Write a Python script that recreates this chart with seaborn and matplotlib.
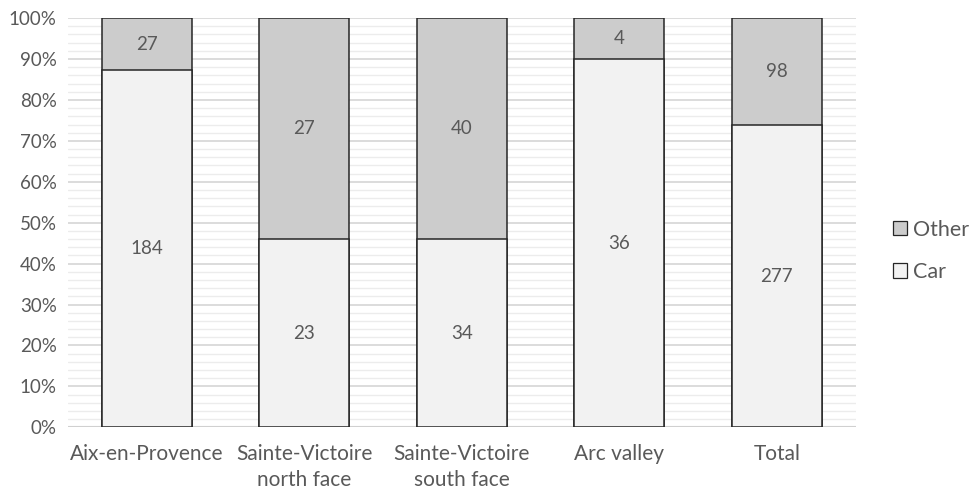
"""Share of car vs other transport modes per area, as 100% stacked bars."""

import matplotlib
matplotlib.use("Agg")
import matplotlib.pyplot as plt
import numpy as np
import pandas as pd
import seaborn as sns
from matplotlib.patches import Patch
from matplotlib.ticker import MultipleLocator, PercentFormatter

areas = [
    "Aix-en-Provence",
    "Sainte-Victoire\nnorth face",
    "Sainte-Victoire\nsouth face",
    "Arc valley",
    "Total",
]
car_counts = [184, 23, 34, 36, 277]
other_counts = [27, 27, 40, 4, 98]

TEXT = "#595959"
CAR_COLOR = "#f2f2f2"
OTHER_COLOR = "#cccccc"
EDGE = "#262626"


def build_frame() -> pd.DataFrame:
    car = np.array(car_counts, dtype=float)
    other = np.array(other_counts, dtype=float)
    total = car + other
    return pd.DataFrame({
        "area": areas,
        "car": car,
        "other": other,
        "car_pct": car / total * 100,
        "top_pct": np.full(len(areas), 100.0),
    })


def main() -> None:
    sns.set_theme(style="white")
    plt.rcParams["font.family"] = ["Lato", "DejaVu Sans"]

    df = build_frame()
    fig, ax = plt.subplots(figsize=(9.69, 4.90), dpi=100)
    fig.subplots_adjust(left=0.070, right=0.883, top=0.963, bottom=0.128)

    width = 0.57
    sns.barplot(data=df, x="area", y="top_pct", color=OTHER_COLOR, width=width,
                edgecolor=EDGE, linewidth=1.1, saturation=1, ax=ax, zorder=3)
    sns.barplot(data=df, x="area", y="car_pct", color=CAR_COLOR, width=width,
                edgecolor=EDGE, linewidth=1.1, saturation=1, ax=ax, zorder=3)

    # labels: counts centred in each segment
    for i, row in df.iterrows():
        ax.text(i, row["car_pct"] / 2, f"{int(row['car'])}", ha="center", va="center",
                fontsize=13.5, color=TEXT, zorder=4)
        ax.text(i, (row["car_pct"] + 100) / 2, f"{int(row['other'])}", ha="center",
                va="center", fontsize=13.5, color=TEXT, zorder=4)

    ax.set_ylim(0, 100)
    ax.set_xlim(-0.5, len(areas) - 0.5)
    ax.yaxis.set_major_locator(MultipleLocator(10))
    ax.yaxis.set_minor_locator(MultipleLocator(2))
    ax.yaxis.set_major_formatter(PercentFormatter(decimals=0))
    ax.grid(axis="y", which="major", color="#d9d9d9", linewidth=1.3, zorder=0)
    ax.grid(axis="y", which="minor", color="#ececec", linewidth=1.0, zorder=0)
    ax.set_axisbelow(True)
    for side in ["top", "right", "left", "bottom"]:
        ax.spines[side].set_visible(False)
    ax.axhline(0, color="#d0d0d0", linewidth=1.5, zorder=1)

    ax.set_xlabel("")
    ax.set_ylabel("")
    ax.tick_params(axis="both", which="both", length=0, colors=TEXT)
    ax.tick_params(axis="y", labelsize=13.5, pad=8)
    ax.tick_params(axis="x", labelsize=15, pad=12)
    for lbl in ax.get_xticklabels():
        lbl.set_linespacing(1.35)

    handles = [
        Patch(facecolor=OTHER_COLOR, edgecolor=EDGE, linewidth=0.9, label="Other"),
        Patch(facecolor=CAR_COLOR, edgecolor=EDGE, linewidth=0.9, label="Car"),
    ]
    leg = fig.legend(handles=handles, loc="center left", bbox_to_anchor=(0.922, 0.488),
                     frameon=False, fontsize=15.5, handlelength=0.65, handleheight=0.65,
                     handletextpad=0.25, labelspacing=1.05, borderaxespad=0, borderpad=0)
    for t in leg.get_texts():
        t.set_color(TEXT)

    fig.savefig("out.png", dpi=100)
    plt.close(fig)


if __name__ == "__main__":
    main()
